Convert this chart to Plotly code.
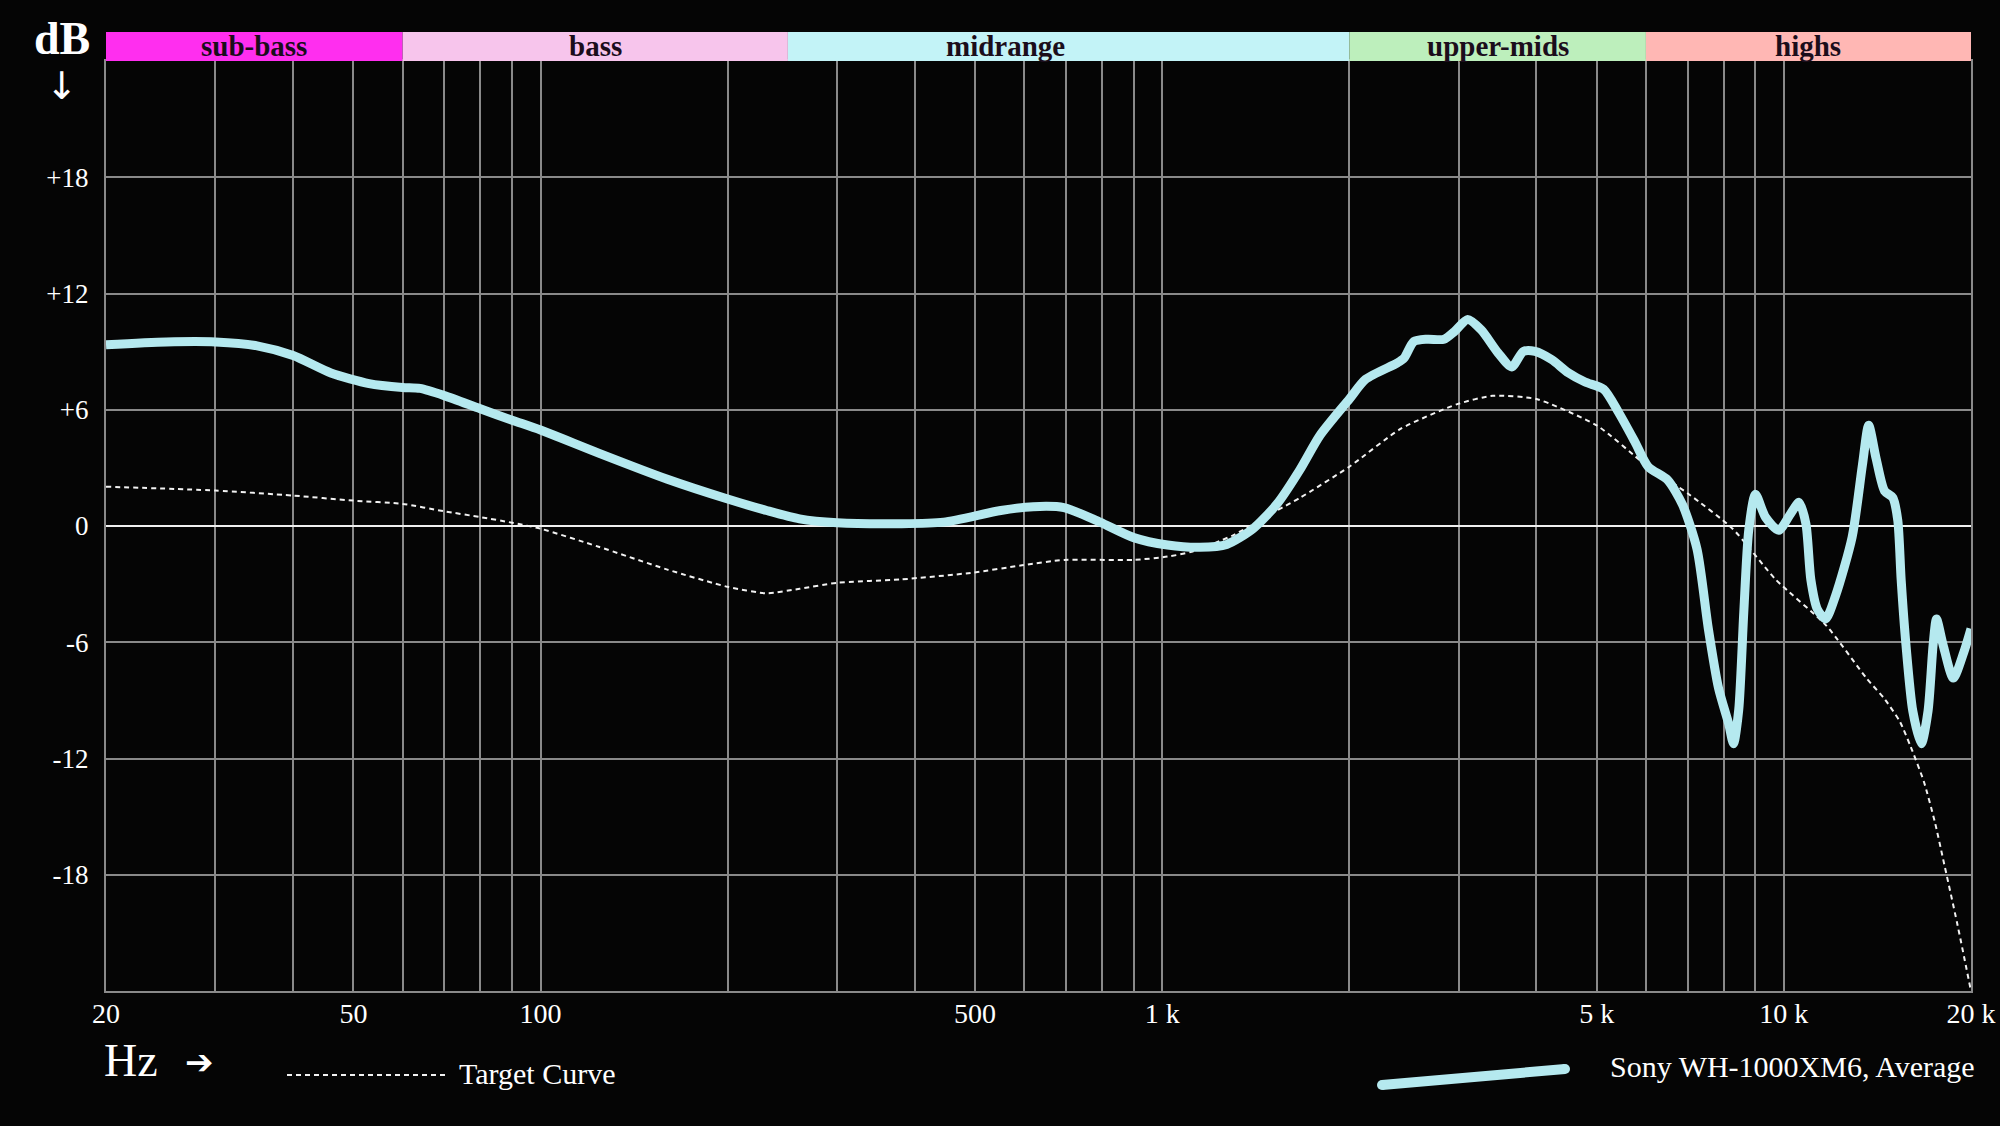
import math
import plotly.graph_objects as go

# ---------------- data ----------------
sony_freq = [20, 25, 30, 35, 40, 46, 53, 60, 64, 70, 80, 90, 100, 124, 160, 200, 231, 261, 300, 379,
             445, 550, 620, 695, 794, 900, 1020, 1150, 1270, 1400, 1530, 1665, 1794, 2000, 2124, 2390,
             2450, 2540, 2670, 2840, 2950, 3100, 3260, 3470, 3650, 3810, 3980, 4230, 4500, 4790, 5130,
             5420, 5760, 6050, 6500, 6870, 7250, 7560, 7850, 8150, 8300, 8460, 8620, 8780, 9000, 9340,
             9810, 10250, 10580, 10850, 11050, 11320, 11670, 12110, 12880, 13380, 13690, 14070, 14520,
             14970, 15250, 15440, 15720, 16120, 16640, 17060, 17380, 17600, 18040, 18730, 19480, 20000]
sony_db = [9.36, 9.5, 9.5, 9.3, 8.8, 7.9, 7.35, 7.15, 7.1, 6.73, 6.05, 5.46, 4.95, 3.76, 2.41, 1.39, 0.8, 0.37, 0.17, 0.12,
           0.2, 0.8, 1.0, 0.95, 0.2, -0.6, -0.98, -1.1, -0.95, -0.14, 1.14, 2.9, 4.68, 6.55, 7.57, 8.42,
           8.67, 9.52, 9.64, 9.64, 10.03, 10.66, 10.12, 8.93, 8.21, 9.01, 9.01, 8.59, 7.91, 7.43, 7.06,
           5.87, 4.34, 3.06, 2.38, 1.1, -1.2, -5.3, -8.36, -10.2, -11.24, -9.5, -4.46, -0.22, 1.64, 0.46,
           -0.22, 0.63, 1.22, 0.12, -2.76, -4.29, -4.8, -3.6, -0.56, 3.17, 5.2, 3.5, 1.81,
           1.47, 0.29, -2.76, -6.15, -9.54, -11.24, -9.54, -6.15, -4.8, -6.15, -7.85, -6.5, -5.3]

target_freq = [20, 30, 40, 50, 60, 70, 80, 90, 100, 124, 160, 200, 231, 261, 300, 379, 492, 595, 695, 900,
               1020, 1115, 1300, 1530, 1665, 2000, 2420, 2983, 3400, 4000, 5000, 6000, 7034, 8270, 9700,
               11700, 13590, 14500, 15370, 16000, 16800, 17500, 18040, 19000, 20000]
target_db = [2.03, 1.83, 1.57, 1.31, 1.14, 0.76, 0.46, 0.17, -0.14, -1.07, -2.25, -3.14, -3.47, -3.24, -2.93, -2.76, -2.42, -2.03, -1.75, -1.75,
             -1.58, -1.33, -0.48, 0.8, 1.45, 3.06, 5.02, 6.29, 6.72, 6.55, 5.19, 3.15, 1.64, -0.14, -2.76,
             -5.14, -7.87, -8.9, -10.1, -11.4, -13.2, -15.3, -17.2, -20.5, -24.0]

band_names = ["sub-bass", "bass", "midrange", "upper-mids", "highs"]
band_edges = [20, 60, 250, 2000, 6000, 20000]
band_label_freq = [34.6, 122.5, 560, 3464, 10954]
band_colors = ["#FF2EEF", "#F7C5EC", "#C3F3F7", "#BDEFBC", "#FFB7B4"]

x_grid = [20, 30, 40, 50, 60, 70, 80, 90, 100, 200, 300, 400, 500, 600, 700, 800, 900,
          1000, 2000, 3000, 4000, 5000, 6000, 7000, 8000, 9000, 10000, 20000]
x_labels = {20: "20", 50: "50", 100: "100", 500: "500", 1000: "1 k", 5000: "5 k", 10000: "10 k", 20000: "20 k"}
y_ticks = [-24, -18, -12, -6, 0, 6, 12, 18, 24]
y_labels = ["", "-18", "-12", "-6", "0", "+6", "+12", "+18", ""]

series_name = "Sony WH-1000XM6, Average"
target_name = "Target Curve"

# ---------------- styling ----------------
W, H = 2000, 1126
L, R, T, B = 106, 29, 61, 135
PW, PH = W - L - R, H - T - B
BG = "#050505"
GRID = "#8a8a8a"
CYAN = "#B5E9EF"
FONT = "Liberation Serif"


def px(X):
    return (X - L) / PW


def py(Y):
    return (H - B - Y) / PH


def fx(f):
    return (math.log10(f) - math.log10(band_edges[0])) / (math.log10(band_edges[-1]) - math.log10(band_edges[0]))


fig = go.Figure()
fig.add_trace(go.Scatter(x=target_freq, y=target_db, mode="lines", name=target_name,
                         line=dict(color="#f2f2f2", width=2, dash="5px,4px", shape="spline", smoothing=0.6),
                         hoverinfo="skip"))
fig.add_trace(go.Scatter(x=sony_freq, y=sony_db, mode="lines", name=series_name,
                         line=dict(color=CYAN, width=9, shape="spline", smoothing=0.7)))

shapes = []
annotations = []
band_top = py(32)
for name, c, a, b, lf in zip(band_names, band_colors, band_edges[:-1], band_edges[1:], band_label_freq):
    shapes.append(dict(type="rect", xref="paper", yref="paper", x0=fx(a), x1=fx(b), y0=1.0, y1=band_top,
                       fillcolor=c, line=dict(width=0), layer="above"))
    annotations.append(dict(text="<b>" + name + "</b>", xref="paper", yref="paper", x=fx(lf),
                            y=(1.0 + band_top) / 2, xanchor="center", yanchor="middle", showarrow=False,
                            font=dict(family=FONT, size=29, color="#1b0d1b")))

# axis captions
annotations += [
    dict(text="<b>dB</b>", xref="paper", yref="paper", x=px(62), y=py(38), xanchor="center", yanchor="middle",
         showarrow=False, font=dict(family=FONT, size=46, color="white")),
    dict(text="↓", xref="paper", yref="paper", x=px(62), y=py(86), xanchor="center", yanchor="middle",
         showarrow=False, font=dict(family="DejaVu Sans", size=38, color="white")),
    dict(text="Hz", xref="paper", yref="paper", x=px(102), y=py(1060), xanchor="left", yanchor="middle",
         showarrow=False, font=dict(family=FONT, size=46, color="white")),
    dict(text="<b>➔</b>", xref="paper", yref="paper", x=px(199), y=py(1062), xanchor="center", yanchor="middle",
         showarrow=False, font=dict(family="DejaVu Sans", size=34, color="white")),
    dict(text=target_name, xref="paper", yref="paper", x=px(457), y=py(1073), xanchor="left", yanchor="middle",
         showarrow=False, font=dict(family=FONT, size=30, color="white")),
    dict(text=series_name, xref="paper", yref="paper", x=px(1608), y=py(1066), xanchor="left", yanchor="middle",
         showarrow=False, font=dict(family=FONT, size=30, color="white")),
]

# legend samples
shapes.append(dict(type="line", xref="paper", yref="paper", x0=px(287), x1=px(449), y0=py(1075), y1=py(1075),
                   line=dict(color="#f2f2f2", width=2, dash="5px,4px")))
shapes.append(dict(type="line", xref="paper", yref="paper", x0=px(1382), x1=px(1565), y0=py(1085), y1=py(1069),
                   line=dict(color=CYAN, width=10)))
for cx, cy in [(1382, 1085), (1565, 1069)]:
    shapes.append(dict(type="circle", xref="paper", yref="paper", x0=px(cx - 5), x1=px(cx + 5),
                       y0=py(cy + 5), y1=py(cy - 5), fillcolor=CYAN, line=dict(width=0)))

fig.update_layout(
    width=W, height=H,
    margin=dict(l=L, r=R, t=T, b=B, autoexpand=False),
    paper_bgcolor=BG, plot_bgcolor=BG,
    showlegend=False,
    shapes=shapes, annotations=annotations,
    xaxis=dict(type="log", range=[math.log10(20), math.log10(20000)],
               tickmode="array", tickvals=x_grid, ticktext=[x_labels.get(v, "") for v in x_grid],
               showgrid=True, gridcolor=GRID, gridwidth=2, ticks="",
               showline=True, linecolor=GRID, linewidth=2, mirror=True,
               zeroline=False, ticklabelstandoff=-4,
               tickfont=dict(family=FONT, size=28, color="white")),
    yaxis=dict(range=[-24, 24], tickmode="array", tickvals=y_ticks, ticktext=y_labels,
               showgrid=True, gridcolor=GRID, gridwidth=2, ticks="",
               showline=True, linecolor=GRID, linewidth=2, mirror=True,
               zeroline=True, zerolinecolor="#f0f0f0", zerolinewidth=2,
               ticklabelstandoff=10,
               tickfont=dict(family=FONT, size=27, color="white")),
)

fig.write_html("out.html")
